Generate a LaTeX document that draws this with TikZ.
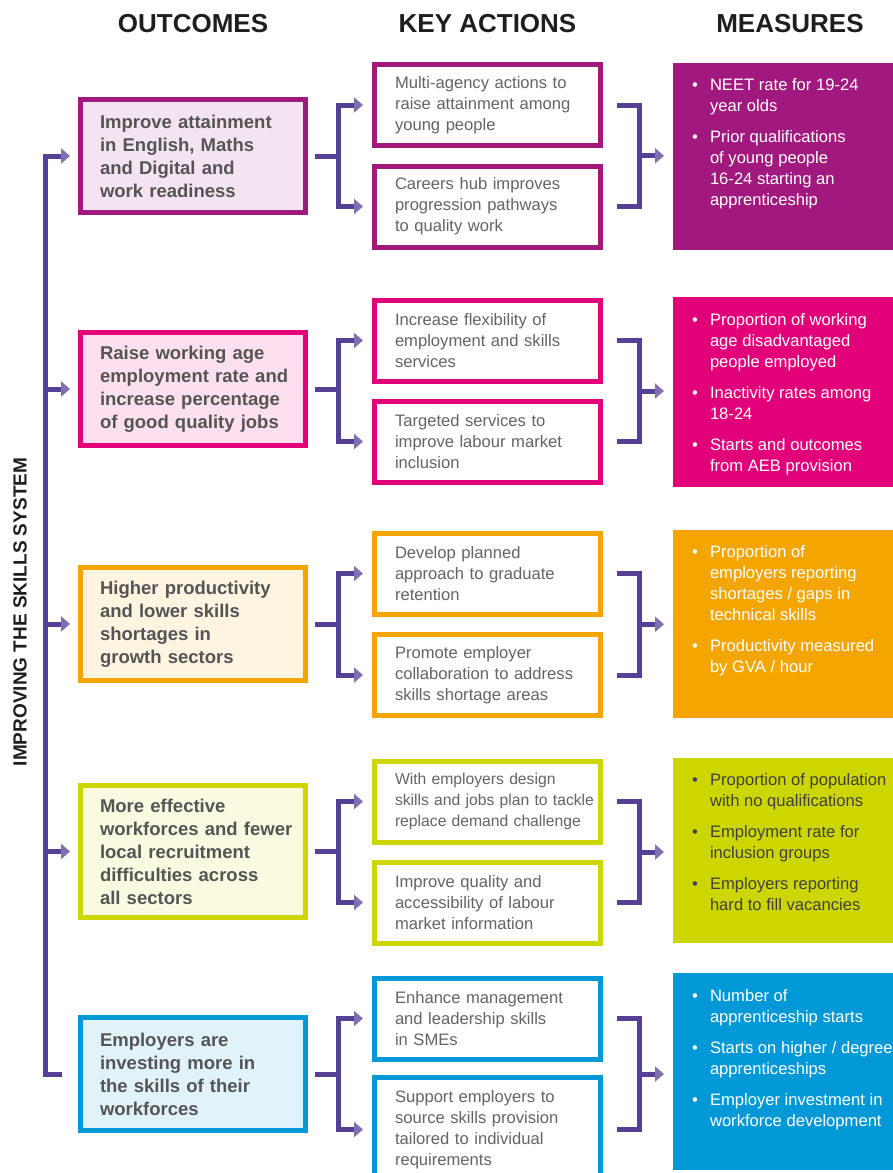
\documentclass[tikz,border=0pt]{standalone}
\usepackage{fontspec}
\setmainfont{Liberation Sans}
\usetikzlibrary{arrows.meta,calc}

% colours of the five rows and of the connectors
\definecolor{colPurple}{RGB}{161,25,126}
\definecolor{colMagenta}{RGB}{226,0,122}
\definecolor{colOrange}{RGB}{245,165,0}
\definecolor{colLime}{RGB}{205,214,0}
\definecolor{colBlue}{RGB}{0,152,214}
\definecolor{colLink}{RGB}{85,64,150}
\definecolor{colOutText}{RGB}{85,85,85}
\definecolor{colActText}{RGB}{100,100,100}
\definecolor{colLimeText}{RGB}{65,65,65}
\definecolor{colHead}{RGB}{30,30,30}

\newcommand{\headFont}{\fontsize{26}{30}\selectfont\bfseries}
\newcommand{\sideFont}{\fontsize{19}{22}\selectfont\bfseries}
\newcommand{\outFont}{\fontsize{18.5}{23}\selectfont\bfseries}
\newcommand{\actFont}{\fontsize{16.6}{21}\selectfont}
\newenvironment{measList}{\begin{tabular}{@{}l@{\hspace{12pt}}l@{}}}{\end{tabular}}

\begin{document}
\begin{tikzpicture}[x=1pt, y=-1pt, >={Triangle[length=9pt,width=15pt,color=colLink!75]}]

	% Styles for boxes and connectors
	\tikzset{
		outBox/.style={draw=#1, fill=#1!12, line width=5pt, minimum width=225pt,
			minimum height=113pt, text width=210pt, align=left, font=\outFont,
			text=colOutText, execute at begin node={\leftskip=12pt}},
		actBox/.style={draw=#1, fill=white, line width=5pt, minimum width=226pt,
			minimum height=81pt, text width=214pt, align=left, font=\actFont,
			text=colActText, execute at begin node={\leftskip=14.5pt\rightskip=-15pt plus 1fil}},
		measBox/.style={fill=#1, inner sep=0pt, minimum width=240pt, anchor=north west},
		measText/.style={font=\actFont, inner sep=0pt, anchor=north west, text=white},
		linkLine/.style={line width=5pt, draw=colLink},
		headText/.style={font=\headFont, text=colHead}
	}

	\useasboundingbox (0,0) rectangle (893,1173);
	\clip (0,0) rectangle (893,1173);

	% Column headers
	\node[headText] (hOut) at (193,24) {OUTCOMES};
	\node[headText] (hAct) at (487.5,24) {KEY ACTIONS};
	\node[headText] (hMeas) at (790,24) {MEASURES};

	% Side label
	\node[rotate=90, font=\sideFont, text=colHead] (side) at (20,612) {IMPROVING THE SKILLS SYSTEM};

	% Row 1 - purple
	\node[outBox=colPurple] (out1) at (193,156) {Improve attainment\\in English, Maths\\and Digital and\\work readiness};
	\node[actBox=colPurple] (actTop1) at (487.5,105) {Multi-agency actions to\\raise attainment among\\young people};
	\node[actBox=colPurple] (actBot1) at (487.5,206.5) {Careers hub improves\\progression pathways\\to quality work};
	\node[measBox=colPurple, minimum height=187pt] (meas1) at (673,63) {};
	\node[measText] (mtx1) at ([xshift=19pt,yshift=-13pt]meas1.north west) {\begin{measList}
		\textbullet & NEET rate for 19-24\\
		& year olds\\[10pt]
		\textbullet & Prior qualifications\\
		& of young people\\
		& 16-24 starting an\\
		& apprenticeship
	\end{measList}};

	% Row 2 - magenta
	\node[outBox=colMagenta] (out2) at (193,389) {Raise working age\\employment rate and\\increase percentage\\of good quality jobs};
	\node[actBox=colMagenta] (actTop2) at (487.5,340.5) {Increase flexibility of\\employment and skills\\services};
	\node[actBox=colMagenta] (actBot2) at (487.5,441.5) {Targeted services to\\improve labour market\\inclusion};
	\node[measBox=colMagenta, minimum height=190pt] (meas2) at (673,297) {};
	\node[measText] (mtx2) at ([xshift=19pt,yshift=-14pt]meas2.north west) {\begin{measList}
		\textbullet & Proportion of working\\
		& age disadvantaged\\
		& people employed\\[10pt]
		\textbullet & Inactivity rates among\\
		& 18-24\\[10pt]
		\textbullet & Starts and outcomes\\
		& from AEB provision
	\end{measList}};

	% Row 3 - orange
	\node[outBox=colOrange] (out3) at (193,624) {Higher productivity\\and lower skills\\shortages in\\growth sectors};
	\node[actBox=colOrange] (actTop3) at (487.5,573.5) {Develop planned\\approach to graduate\\retention};
	\node[actBox=colOrange] (actBot3) at (487.5,675) {Promote employer\\collaboration to address\\skills shortage areas};
	\node[measBox=colOrange, minimum height=188pt] (meas3) at (673,530) {};
	\node[measText] (mtx3) at ([xshift=19pt,yshift=-13pt]meas3.north west) {\begin{measList}
		\textbullet & Proportion of\\
		& employers reporting\\
		& shortages / gaps in\\
		& technical skills\\[10pt]
		\textbullet & Productivity measured\\
		& by GVA / hour
	\end{measList}};

	% Row 4 - lime
	\node[outBox=colLime, minimum height=132pt] (out4) at (193,851.5) {More effective\\workforces and fewer\\local recruitment\\difficulties across\\all sectors};
	\node[actBox=colLime, font=\fontsize{15.7}{21}\selectfont] (actTop4) at (487.5,801.5) {With employers design\\skills and jobs plan to tackle\\replace demand challenge};
	\node[actBox=colLime] (actBot4) at (487.5,902.5) {Improve quality and\\accessibility of labour\\market information};
	\node[measBox=colLime, minimum height=185pt] (meas4) at (673,758) {};
	\node[measText, text=colLimeText] (mtx4) at ([xshift=19pt,yshift=-13pt]meas4.north west) {\begin{measList}
		\textbullet & Proportion of population\\
		& with no qualifications\\[10pt]
		\textbullet & Employment rate for\\
		& inclusion groups\\[10pt]
		\textbullet & Employers reporting\\
		& hard to fill vacancies
	\end{measList}};

	% Row 5 - blue
	\node[outBox=colBlue] (out5) at (193,1074) {Employers are\\investing more in\\the skills of their\\workforces};
	\node[actBox=colBlue] (actTop5) at (487.5,1018.5) {Enhance management\\and leadership skills\\in SMEs};
	\node[actBox=colBlue, minimum height=104pt] (actBot5) at (487.5,1129.5) {Support employers to\\source skills provision\\tailored to individual\\requirements};
	\node[measBox=colBlue, minimum height=197pt] (meas5) at (673,973) {};
	\node[measText] (mtx5) at ([xshift=19pt,yshift=-14pt]meas5.north west) {\begin{measList}
		\textbullet & Number of\\
		& apprenticeship starts\\[10pt]
		\textbullet & Starts on higher / degree\\
		& apprenticeships\\[10pt]
		\textbullet & Employer investment in\\
		& workforce development
	\end{measList}};

	% Spine on the left, feeding every outcome
	\coordinate (spine) at ([xshift=-33pt]out1.west);
	\draw[linkLine, ->, shorten >=8pt] ([xshift=-16pt]out5.west) -| (spine) -- (out1.west);
	\foreach \row in {2,3,4} {
		\draw[linkLine, ->, shorten >=8pt] (spine |- out\row.west) -- (out\row.west);
	}

	% Forks to the key actions and brackets to the measures
	\foreach \row in {1,...,5} {
		\draw[linkLine, ->, shorten <=7pt, shorten >=9pt] (out\row.east) -- +(30,0) |- (actTop\row.west);
		\draw[linkLine, ->, shorten <=7pt, shorten >=9pt] (out\row.east) -- +(30,0) |- (actBot\row.west);
		\draw[linkLine] ([xshift=14pt]actTop\row.east) -- +(22,0) |- ([xshift=14pt]actBot\row.east);
		\coordinate (join\row) at ($([xshift=36pt]actTop\row.east)!.5!([xshift=36pt]actBot\row.east)$);
		\draw[linkLine, ->, shorten >=9pt] (join\row) -- (join\row -| meas\row.west);
	}

\end{tikzpicture}
\end{document}
